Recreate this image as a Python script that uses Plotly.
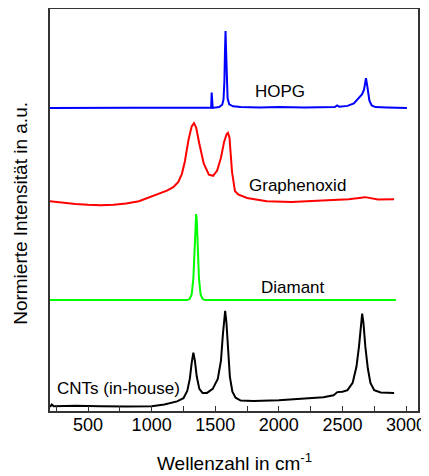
import plotly.graph_objects as go

# ---- data (wavenumber in cm^-1, normalized intensity incl. stacking offset, a.u.) ----
hopg_x = [201, 1000, 1100, 1200, 1300, 1400, 1460, 1468, 1472, 1476, 1480, 1530, 1555, 1565,
          1572, 1577, 1581, 1585, 1590, 1597, 1610, 1640, 1700, 1850, 2000, 2200, 2440, 2458,
          2475, 2540, 2590, 2615, 2635, 2655, 2670, 2678, 2685, 2692, 2700, 2712, 2730, 2760,
          2850, 2950, 3007]
hopg_y = [75.4, 75.4, 75.5, 75.4, 75.5, 75.4, 75.5, 75.5, 79.2, 75.5, 75.4, 75.6, 76.2, 77.5,
          82.0, 90.0, 94.5, 90.0, 82.0, 77.8, 76.3, 75.8, 75.6, 75.5, 75.6, 75.5, 75.6, 76.0,
          75.7, 75.9, 76.5, 77.4, 78.0, 78.8, 80.0, 81.8, 82.8, 81.5, 79.5, 77.2, 76.0, 75.6,
          75.5, 75.4, 75.4]

go_x = [201, 300, 400, 500, 600, 700, 800, 900, 988, 1060, 1120, 1170, 1210, 1238, 1262,
        1290, 1315, 1333, 1350, 1375, 1410, 1450, 1483, 1515, 1545, 1570, 1590, 1600, 1612,
        1632, 1655, 1680, 1750, 1905, 2100, 2300, 2430, 2550, 2678, 2780, 2906]
go_y = [52.2, 51.8, 51.5, 51.3, 51.2, 51.3, 51.6, 52.2, 53.2, 54.0, 54.8, 55.7, 57.0, 59.0,
        62.2, 67.5, 70.8, 71.6, 70.5, 66.5, 61.5, 58.8, 58.5, 59.8, 63.0, 67.0, 68.9, 69.2,
        68.0, 59.5, 54.7, 53.9, 53.0, 52.2, 52.0, 52.3, 52.5, 52.7, 53.2, 52.6, 52.7]

dia_x = [201, 1280, 1300, 1315, 1328, 1338, 1345, 1350, 1355, 1362, 1372, 1385, 1400, 1420, 2920]
dia_y = [27.6, 27.6, 27.9, 29.0, 33.0, 41.0, 47.5, 49.0, 47.5, 41.0, 33.0, 29.0, 27.9, 27.6, 27.6]

cnt_x = [201, 215, 230, 300, 400, 600, 800, 1000, 1100, 1200, 1250, 1280, 1300, 1315, 1328,
         1340, 1355, 1375, 1400, 1435, 1480, 1520, 1545, 1560, 1572, 1578, 1588, 1600, 1615,
         1635, 1660, 1700, 1800, 2000, 2200, 2350, 2430, 2460, 2500, 2540, 2580, 2610, 2630,
         2645, 2655, 2665, 2680, 2700, 2720, 2750, 2800, 2906]
cnt_y = [1.0, 1.6, 1.2, 1.3, 1.3, 1.2, 1.1, 1.2, 1.6, 2.4, 3.2, 5.0, 8.0, 12.0, 14.5,
         12.5, 8.5, 5.5, 4.5, 4.5, 5.5, 8.0, 12.5, 19.0, 24.0, 24.9, 22.0, 15.0, 8.5,
         4.8, 3.3, 2.6, 2.5, 2.7, 3.0, 3.4, 3.9, 4.7, 4.8, 5.2, 7.0, 11.0, 16.0,
         21.5, 24.2, 22.0, 16.0, 10.5, 7.0, 5.2, 4.6, 4.5]

labels = ["HOPG", "Graphenoxid", "Diamant", "CNTs (in-house)"]
label_x = [2009, 2143, 2112, 736]
label_y = [79.6, 56.0, 30.6, 5.7]

x_ticks = [500, 1000, 1500, 2000, 2500, 3000]
x_title = "Wellenzahl in cm<sup>-1</sup>"
y_title = "Normierte Intensität in a.u."

FONT = "Arial, Liberation Sans, sans-serif"

fig = go.Figure()
for xs, ys, col in [(hopg_x, hopg_y, "#0000ff"), (go_x, go_y, "#ff0000"),
                    (dia_x, dia_y, "#00ff00"), (cnt_x, cnt_y, "#000000")]:
    fig.add_trace(go.Scatter(x=xs, y=ys, mode="lines",
                             line=dict(color=col, width=2), showlegend=False,
                             hoverinfo="skip"))

for t, lx, ly in zip(labels, label_x, label_y):
    fig.add_annotation(x=lx, y=ly, text=t, showarrow=False, xref="x", yref="y",
                       font=dict(family=FONT, size=17, color="#000000"))

# axis titles as paper annotations for exact placement
fig.add_annotation(x=0.5, y=-0.127, xref="paper", yref="paper", text=x_title,
                   showarrow=False, yanchor="middle", xanchor="center",
                   font=dict(family=FONT, size=19, color="#000000"))
fig.add_annotation(x=-0.082, y=0.4925, xref="paper", yref="paper", text=y_title,
                   showarrow=False, textangle=-90, xanchor="center", yanchor="middle",
                   font=dict(family=FONT, size=19, color="#000000"))

# the page body adds an 8px margin, so the figure is 8px smaller on each side
fig.update_layout(
    width=421, height=468,
    margin=dict(l=42, r=11, t=1, b=65, autoexpand=False),
    paper_bgcolor="white", plot_bgcolor="white",
    font=dict(family=FONT, color="#000000"),
    xaxis=dict(range=[201, 3094], tickvals=x_ticks, ticktext=[str(v) for v in x_ticks],
               ticks="inside", ticklen=5, tickwidth=1.2, tickcolor="#333333",
               minor=dict(dtick=250, tick0=0, ticks="inside", ticklen=5, tickwidth=1.2,
                          tickcolor="#333333"),
               showline=True, linecolor="#333333", linewidth=1.5, mirror=True,
               showgrid=False, zeroline=False, automargin=False,
               ticklabelstandoff=-3,
               tickfont=dict(family=FONT, size=18)),
    yaxis=dict(range=[0, 100], showticklabels=False, ticks="",
               showline=True, linecolor="#333333", linewidth=1.5, mirror=True,
               showgrid=False, zeroline=False, automargin=False),
)

fig.write_html("out.html")
